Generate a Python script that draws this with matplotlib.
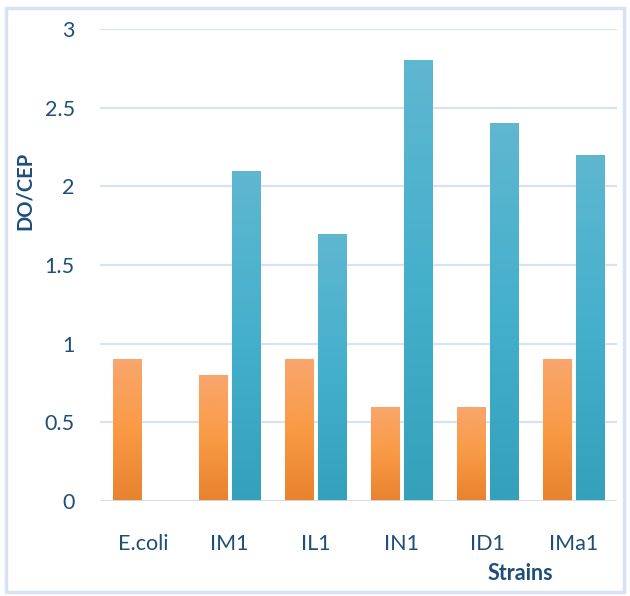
import numpy as np
import matplotlib
matplotlib.use("Agg")
import matplotlib.pyplot as plt
from matplotlib.colors import LinearSegmentedColormap
from matplotlib.patches import Rectangle

strains = ["E.coli", "IM1", "IL1", "IN1", "ID1", "IMa1"]
series_a = [0.9, 0.8, 0.9, 0.6, 0.6, 0.9]
series_b = [0.0, 2.1, 1.7, 2.8, 2.4, 2.2]
y_ticks = [0, 0.5, 1, 1.5, 2, 2.5, 3]
y_tick_labels = ["0", "0.5", "1", "1.5", "2", "2.5", "3"]

text_color = "#1F4E79"
grid_color = "#D9E2F0"

orange_map = LinearSegmentedColormap.from_list("orange_grad", ["#E8822E", "#F99A45", "#F9A66D"])
blue_map = LinearSegmentedColormap.from_list("blue_grad", ["#35A0BA", "#45B0CC", "#5FB7D0"])

fig = plt.figure(figsize=(6.30, 5.96), dpi=100)
ax = fig.add_axes([100.5 / 630, 1 - 501 / 596, 516 / 630, 472 / 596])

x = np.arange(len(strains))
width = 0.326
offset = (width + 5 / 86) / 2

bars_a = ax.bar(x - offset, series_a, width, color="none", lw=0, zorder=3)
bars_b = ax.bar(x + offset, series_b, width, color="none", lw=0, zorder=3)

grad = np.linspace(0, 1, 256).reshape(-1, 1)
for bars, cmap in ((bars_a, orange_map), (bars_b, blue_map)):
    for bar in bars:
        h = bar.get_height()
        if h <= 0:
            continue
        x0 = bar.get_x()
        w = bar.get_width()
        im = ax.imshow(grad, cmap=cmap, origin="lower", aspect="auto",
                       extent=(x0, x0 + w, 0, h), zorder=3)
        im.set_clip_path(bar)

ax.set_xlim(-0.5, len(strains) - 0.5)
ax.set_ylim(0, 3)
ax.set_yticks(y_ticks)
ax.set_yticklabels(y_tick_labels)
ax.set_xticks(x)
ax.set_xticklabels(strains)

for yv in y_ticks[1:]:
    ax.axhline(yv, color=grid_color, lw=1.6, zorder=1)
ax.axhline(0, color="#D0DCEB", lw=2.0, zorder=4)

for s in ax.spines.values():
    s.set_visible(False)
ax.tick_params(axis="both", length=0, labelsize=15.5, labelcolor=text_color)
ax.tick_params(axis="y", pad=18.5)
ax.tick_params(axis="x", pad=24)
for lab in ax.get_xticklabels() + ax.get_yticklabels():
    lab.set_fontfamily("Lato")

fig.text(25 / 630, 1 - 191 / 596, "DO/CEP", rotation=90, ha="center", va="center",
         fontsize=14.5, fontweight="bold", color=text_color, family="Lato")
fig.text(520 / 630, 1 - 573 / 596, "Strains", ha="center", va="center",
         fontsize=15.5, fontweight="bold", color=text_color, family="Lato")

fig.patches.append(Rectangle((6 / 630, 4 / 596), 618 / 630, 584 / 596,
                             transform=fig.transFigure, fill=False,
                             edgecolor="#D6E3F3", lw=2.5))

fig.savefig("out.png", dpi=100)
